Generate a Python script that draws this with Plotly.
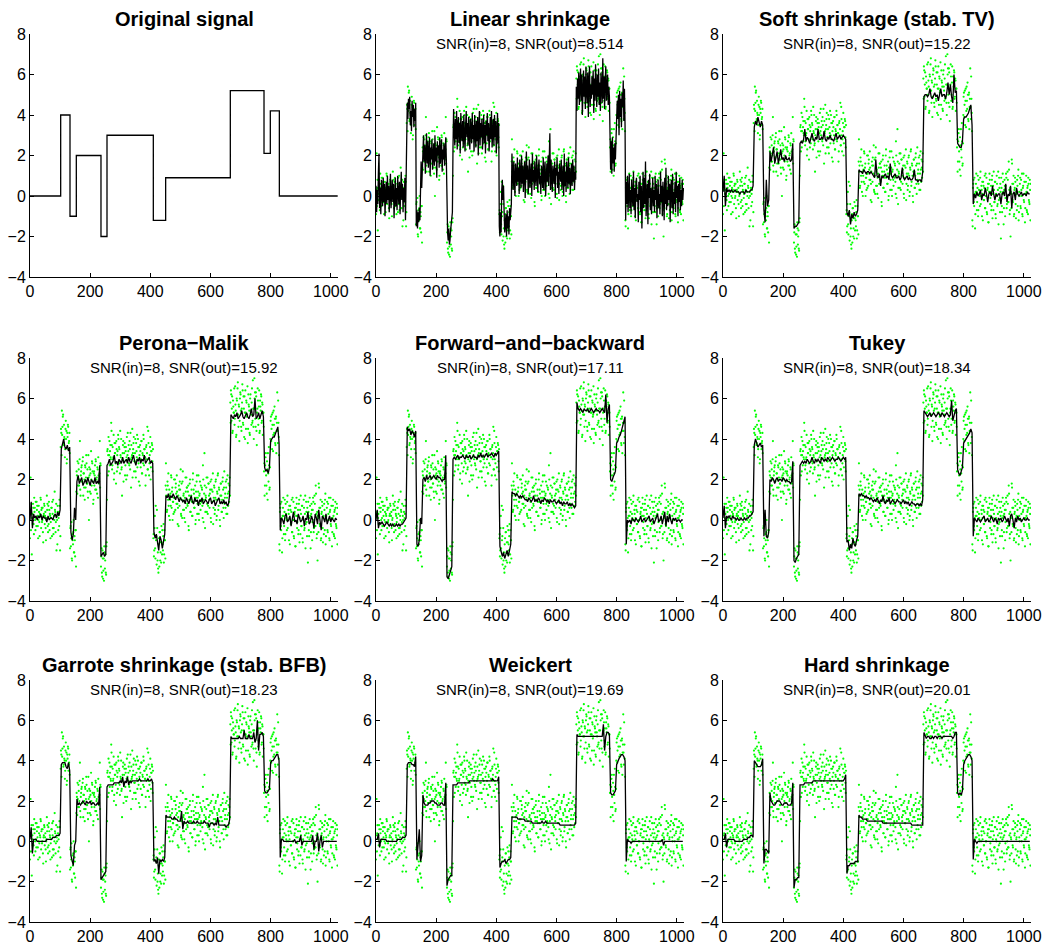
import bisect
import plotly.graph_objects as go

# ---------------- data ----------------
N_SAMPLES = 1024
BREAKS = [102, 133, 154, 236, 256, 410, 451, 666, 778, 799, 829]
LEVELS = [0, 4, -1, 2, -2, 3, -1.2, 0.9, 5.2, 2.1, 4.2, 0]
X_TICKS = [0, 200, 400, 600, 800, 1000]
Y_TICKS = [-4, -2, 0, 2, 4, 6, 8]

TITLES = ["Original signal", "Linear shrinkage", "Soft shrinkage (stab. TV)",
          "Perona\u2212Malik", "Forward\u2212and\u2212backward", "Tukey",
          "Garrote shrinkage (stab. BFB)", "Weickert", "Hard shrinkage"]
SNR_IN = "8"
SNR_OUT = [None, "8.514", "15.22", "15.92", "17.11", "18.34", "18.23", "19.69", "20.01"]

# noisy observation, deviation from the clean signal (tenths)
# even samples 0, 2, 4, ...
NOISE_EVEN = [
    -9, 21, 4, -17, 3, 8, -2, 11, 6, -5, 1, 9, 7, -3, 0, 4, -8, 2, 10, 5,
    -1, 6, -11, 3, 7, 2, -4, 0, 12, 8, -6, -2, 5, 3, -9, 1, 6, 9, -4, -7,
    2, 14, 4, -1, -15, 0, 7, -5, 3, 10, -15,
    -4, 3, 14, 6, 12, -2, 1, -9, 5, 0, -12, 3, 7, -5, -1, -7,
    6, -3, 9, -10, 0, 4, -6, 2, -8, 5,
    -6, 2, 9, -3, 5, 0, 19, -8, 4, 7, -1, 11, 3, -4, -10, 6, 1, 8, -2, -6,
    12, -20, 2, 5, -7, 0, 9, 4, -12, 3, -3, 7, 10, -5, 1, 6, -9, 2, -1, 19, 8,
    -3, 6, -8, 1, -5, -10, 4, 0, -6, 7,
    -20, 5, 2, -6, 9, 4, 1, 18, 7, -3, 0, 12, -7, 3, 8, -12, 5, 2, -4, 10,
    6, -2, 14, 1, -5, -18, 3, 9, -1, 6, -8, 4, -10, 11, 2, 0, 7, -3, 5, 13,
    -14, 1, 15, 3, 8, -6, -1, 10, -9, 4, 12, 0, 6, -11, 2, 7, -4, 9, -7, 3,
    -2, 10, 5, 1, -13, 6, 0, 16, -5, 8, -8, 2, 11, -4, 4, 7, -6,
    3, -6, 8, -2, 19, 4, 17, -8, -12, 0, -11, 6, -4, -9, 1, 7, -3, 10, -5, 2, -7,
    19, 6, -4, 8, 14, -7, 3, 1, -2, 12, 5, -9, 0, 2, -5, 11, 7, 4, 13, -1,
    -3, -12, 6, 10, 2, -6, 9, -8, 15, 3, -4, 0, -10, 5, 12, 7, -2, 8, -14, 1,
    11, -5, 3, 0, -7, 14, 6, -3, 2, -11, 5, 10, -6, 2, 13, -9, 4, -1, 8, 0,
    6, -8, 11, 1, 24, -13, 3, 7, -5, 12, -2, 9, 1, 4, 10, -10, 6, 0, 14, -3,
    8, -6, 2, 11, -9, 5, 13, -4, 7, 1, -12, 9, 3, -5, 10, 6, -8, 15, 2, -3,
    7, 11, -6, 4, 9, 0, 12,
    6, 12, -3, 9, -8, 4, 1, -5, 14, 2, -10, 7, 13, 0, 5, -13, 8, 10, -6, 3,
    15, -4, 9, -11, 1, 12, -7, 6, 0, -14, 10, 4, -9, 8, 2, -5, 13, -3, 3, -12,
    18, 11, -6, 9, -15, 3, 7, -2, 12, -8, 4, 10, -4, 6, -10, 1,
    3, -9, 6, 12, -4, 8, -11, 2, 15, -6, 5,
    7, -3, 10, 5, -8, 12, 1, 8, -5, 9, 2, 21, -4, 6, -10,
    -15, 6, -3, 9, -16, 2, 11, -7, 4, -10, 8, 1, -5, 12, 0, 3, 7, -12, 5, -2,
    10, -6, 0, 9, -9, 4, -13, 6, 11, -4, 2, -7, 8, -11, 5, 12, -3, 7, -9, 1,
    10, -5, 3, -14, 9, -1, 6, -21, 4, -8, 11, 2, -6, 8, -10, 5, 9, -4, 12, -3,
    17, 3, -7, -20, 1, 18, 6, -3, 10, -9, 4, 7, -11, 2, 8, -5, 13, -8, 0, 9,
    -6, 3, 11, -10, 5, -2, 7, -13, 1, 10, -7, 4, -9, 6, -3, 8, -12,
]
# odd samples 1, 3, 5, ...
NOISE_ODD = [
    3, -5, 8, 1, -2, 6, -7, 4, 0, 9, -3, 5, 2, -9, 7, -1, 3, 11, -4, 6,
    0, -6, 2, 8, -2, 4, -10, 1, 5, -3, 7, 9, -5, 2, -1, 6, -8, 3, 10, -4,
    0, 5, -6, 8, 2, -12, 4, 1, -3, 7, -8,
    5, -8, 2, 11, -3, 7, 0, -5, 9, 4, -10, 1, 6, -2, 3,
    -4, 7, 1, -9, 3, -2, 10, -6, 0, 5, -13,
    4, -7, 1, 8, -3, 10, -5, 2, 6, -1, 9, -8, 3, 0, 7, -4, 12, -2, 5, -9,
    1, 6, -6, 3, 14, -3, 8, -1, -10, 4, 2, -5, 9, 0, -7, 5, 11, -2, 3, -4, 7,
    2, -6, 5, -9, 1, 7, -4, 3, -7, 9,
    4, -8, 11, 2, -3, 7, 0, 14, -5, 6, 1, -10, 8, 3, -2, 9, -6, 4, 12, -1,
    5, -7, 2, 10, -4, 0, 7, -11, 3, 8, -3, 6, 1, -8, 13, 4, -2, 9, -5, 0,
    7, 2, -9, 5, 11, -1, 3, -6, 8, 1, -4, 10, -2, 6, -13, 4, 0, 9, -7, 2,
    12, -3, 5, 1, -8, 7, 3, -5, 14, 0, -2, 6, -10, 4, 8, -1, 5,
    5, -3, 14, -7, 2, -10, 8, -4, -14, 3, 6, -8, 1, 9, -5, 0, 4, -9, 7, 2,
    8, 3, -5, 10, 1, -2, 6, -9, 4, 13, -3, 7, 0, -6, 11, 2, -4, 9, -1, 5,
    -11, 3, 8, -2, 6, 16, -7, 1, 10, -4, 4, -8, 2, 12, -3, 7, -1, 5, -12, 3,
    9, -5, 1, 6, -7, 11, 0, 4, -3, 8, -9, 2, 13, -1, 5, -6, 3, 10, -4, 1,
    7, -2, 18, -10, 4, 8, -5, 2, 12, -1, -6, 9, 3, -3, 6, -8, 11, 0, 5, -11,
    2, 7, -4, 10, 1, -7, 4, 14, -2, 6, -9, 3, 9, -5, 1, 12, -3, 7, -1, 4,
    10, -6, 2, 13, -2, 5, 8, 3,
    -4, 10, 3, -9, 7, 1, 13, -2, 5, -11, 8, 0, 16, -6, 4, -3, 11, 2, -8, 6,
    12, -5, 3, 9, -12, 1, 7, -1, 14, -7, 5, 2, -10, 10, 0, 6, -4, 17, -6, 3,
    8, -2, 11, -8, 1, 13, -5, 4, -9, 7, 2, 9, -3, 5, 1, -6,
    7, -4, 10, 1, -8, 4, 12, -2, 6, -5,
    -2, 9, 3, -7, 11, 0, 5, 14, -4, 8, -9, 6, 2, 17, -1,
    -12, 4, 8, -5, 1, -9, 6, 2, -3, 10, -7, 3, 0, 9, -4, 5, -10, 1, 7, -2,
    4, -6, 11, 0, -8, 3, 6, -13, 2, 8, -1, 5, -5, 10, 1, -7, 3, -3, 7, -11,
    0, 6, -4, 12, -2, 4, -8, 2, 9, -5, 1, 7, -14, 3, 5, -1, 11, -6, 0, 8,
    -3, 13, -9, 4, 2, -6, 16, -2, 6, -10, 3, 9, -4, 1, -7, 5, 10, -12, 2, 6,
    -5, 8, 0, -9, 4, 11, -3, 1, -6, 7, 2, -8, 5, 9, -2, -4, 3, 6,
]

# denoised results, deviation from the clean signal (tenths)
LINEAR_STEP = 2
RES_LINEAR = [
    5, -8, 3, -4, 12, 21, -6, 4, -9, 8, 2, -5, 9, -3, 6, -10, 1, 7, -4, 10,
    -2, 5, -8, 3, 11, -6, 0, 8, -3, 6, -11, 2, 9, -5, 4, -7, 10, 1, -4, 7,
    -9, 3, 12, -2, 6, -8, 4, -3, 9, -12, 5,
    -4, 6, -2, 8, 3, 9, -5, 2, -8, 7, -1, 5, -6, 3, -3, 6,
    -5, 3, -6, 2, -3, 4, -2, 8, 27, 14,
    -8, 6, 10, -3, 5, -9, 2, 11, -4, 7, -6, 3, 9, -10, 4, -2, 8, -7, 1, 6,
    -5, 10, -3, 4, -11, 7, 0, 5, -6, 9, -4, 2, 8, -8, 3, -2, 6, -5, 1, 9, -3,
    8, 2, -2, 4, -4, -2, 3, 6, 9, 12,
    -6, 13, 2, -5, 8, -2, 12, -7, 4, 9, -4, 6, -9, 11, 1, -3, 7, -6, 10, 2,
    -8, 5, 12, -1, 6, -5, 9, 0, -7, 8, 3, -4, 11, -2, 5, -8, 10, 1, -6, 7,
    -3, 9, -10, 4, 12, -5, 6, -1, 8, -7, 2, 10, -4, 5, -9, 7, 0, 11, -3, 6,
    -8, 4, 9, -2, 12, -6, 3, 8, -5, 10, -1, 7, -9, 5, 11, -4, 6,
    -3, -8, 4, -6, 15, 20, 10, 17, 4, -6, -2, 3, -8, 5, -4, 2, -7, 6, 0, 4, 8,
    12, 4, -6, 8, 1, -9, 7, 3, -4, 10, -2, 5, -8, 9, 0, -5, 11, -3, 6, -7,
    2, 8, -10, 4, 13, -1, 6, -8, 3, 9, -5, 1, 7, -9, 12, -2, 4, -6, 8, 0,
    -4, 11, 3, -7, 5, 9, -3, 1, -8, 6, 2, -5, 10, -6, 4, 8, -9, 3, 7, -2,
    11, -4, 5, 22, -6, 9, 0, -7, 6, 2, -3, 8, -10, 5, 1, 10, -5, 3, -8, 7,
    4, -2, 9, -6, 0, 6, -9, 12, -4, 3, -7, 8, 2, -5, 10, -3, 5, -8, 1, 7,
    -4, 9, -2, 6, -6, 3, -1,
    2, -10, 6, -4, 9, -7, 3, 11, -5, 8, -12, 4, 10, -3, 7, -9, 12, 0, -6, 9,
    -13, 5, 12, -8, 3, -4, 7, -2, 10, -11, 6, -5, 13, 1, -8, 8, -3, 11, -7, 4,
    -10, 9, 2, -6, 16, -4, 7, -9, 5, 12, -5, 3, 8, -7, 2, -3,
    -2, -8, 6, -10, 8, -5, 3, -9, 5, -3, 7,
    -6, 5, -4, 8, -12, 10, -3, 6, -8, 9, 2, 15, -5, 11, -7,
    -12, 7, -4, 10, -8, 2, 11, -6, 3, -9, 8, 0, -5, 12, -7, 4, -11, 6, 9, -3,
    1, -13, 7, -2, 10, -8, 5, -16, 3, 12, -6, 9, -4, 17, -10, 2, 6, -14, 8, -1,
    11, -7, 4, -9, 5, 9, -5, 3, -8, 10, -2, 6, -11, 4, 8, -6, 1, -9, 12, -3,
    5, -10, 7, 0, -12, 9, -4, 14, -7, 3, -5, 10, -2, 6, -13, 4, 8, -6, 11, -9,
    2, -4, 7, -8, 12, -1, 5, -10, 6, -3, 9, -7, 3, -5, 8, -2, 4,
]
LINE_STEP = 4
RES_SOFT = [
    2, 10, -5, 4, 2, 3, 2, 3, 2, 2, 3, 2, 2, 2, 1, 2, 2, 2, 1, 3, 2, 2, 2, 3, 3, 5,
    -6, -3, -5, -1, -4, -6, -3, -5,
    3, -3, 18, 5, 8,
    2, -3, 1, 4, -4, 0, 2, -4, -1, 3, -2, -1, -3, 0, -2, -2, -1, -3, -2, 6,
    4, 5, 5, 6, 7,
    -4, -3, -4, -2, 3, -3, -1, -2, -4, -2, 1, -2, -3, -1, -2, 3, -2, -2, -1, -2,
    2, -2, -3, -1, -2, 0, -2, -2, -3, -1, 1, -2, -1, 0, -2, -1, 0, -1, -2,
    4, 2, 5, -2, 3, 1, 4, 2, 3, 5,
    4, 3, 3, 2, 4, 3, 2, 3, 3, 2, 3, 2,
    1, 0, 9, 1, 0, 2, -4, 1, 0, 1, 2, 0, 1, -1, 7, 1, 0, 1, 2, 0,
    0, 1, -1, 0, 5, 0, -1, 0, 1, -1, 0, -1, -1, 0, 4, -1, -1, -2, -1, -1, -2, 3,
    -3, -2, -2, -3, -2, 1, -3, -4, -2, -1, -3, -2, -5, -2, 1, -3, -2, -2, -4, -1,
    4, -2, 3, -3, -6, 8, -1, 0,
    5, 4, 3, 3, 6,
    -4, -3, -3, -2, -1, 1, 3, -7,
    -4, 1, -1, 2, 0, 1, 3, -2, 1, 0, 4, 1, -3, 1, 2, 0, 5, 1, -2, 1,
    0, 1, 1, -4, 1, 2, 0, 6, -3, 1, 0, 5, -6, 1, 2, -2, 4, 1, 0, 1,
    2, 0, 1, 1, 0, 2, 1, 1,
]
RES_PERONA = [
    0, 9, -4, 3, 1, 2, 0, 2, 1, 3, 0, 2, 1, 1, -1, 2, 0, 1, 1, 0, 2, 3, 1, 4, 2, 5,
    -5, -2, 0, -4, -5, -3, -6, -4,
    4, 0, 3, 16, 10,
    -1, 2, -2, 0, 1, -3, -1, 0, -2, 1, -1, -3, 0, -1, -2, 1, -2, -1, -2, 7,
    2, 3, 4, 2, 3,
    -3, -2, 0, -3, -2, -1, 2, -2, -1, -3, 0, -1, -2, 1, -2, -1, 0, -2, 1, -1,
    -2, 0, 2, -1, -3, 0, -1, 1, -2, 0, -1, 2, -2, -1, 0, 1, -2, -1, -2,
    6, 3, 5, 1, -3, 4, 2, -2, 3, 5,
    3, 2, 4, 1, 3, 2, 4, 2, 1, 3, 2, 0, 2, 1,
    0, 1, -1, 2, 0, -1, 1, 3, 0, -1, 2, 0, 1, -2, 1, 0, 2, -1, 0, 1,
    0, -1, 1, 2, -1, 0, 1, -2, 0, 1, 2, -1, 0, -1, 1, -1, 0, -2, -1, 4,
    0, -1, -2, 0, -1, 1, -2, -1, 0, 2, -1, -2, 0, 1, -1, -2, 0, 3, -1, 0,
    8, -2, -1, 1, -2, 0, 2, -1,
    5, 3, 4, 2, 5,
    -3, -2, -1, -1, 1, 2, 4, -4,
    -5, 1, 0, -2, 2, 3, -1, 0, 2, -3, 1, 4, -1, 0, -2, 3, 1, -1, 0, 2,
    -3, 1, 0, 4, -2, -1, 2, 0, -4, 3, 1, -2, 5, 0, -5, 2, 1, -1, 3, -2,
    0, 2, -1, 1, 0, -1, 1, 0,
]
RES_FB = [
    0, 5, -4, -1, -2, -1, -2, -3, -2, -1, -2, -3, -2, -3, -2, -3, -3, -2, -3, -2, -3, -2, -2, -1, 0, 1,
    6, 4, 5, 2, 4, 3, 1, 4,
    -2, -3, 0, 11, 8,
    0, 1, -1, 2, 0, 1, 2, 0, 1, 2, 1, 0, 2, 1, 1, 0, -1, 0, 0, 12,
    -8, -9, -7, -5, -3,
    0, 1, 0, 1, 2, 0, 1, 1, 2, 1, 0, 2, 1, 1, 2, 0, 1, 2, 1, 1,
    0, 2, 1, 3, 1, 2, 1, 2, 3, 1, 2, 2, 3, 2, 1, 3, 2, 3, 4,
    -1, -3, -6, -4, -7, -5, -3, -6, -2, 0,
    5, 4, 4, 3, 4, 3, 2, 3, 2, 3, 2, 1,
    1, 0, 2, 1, 0, 1, 3, 0, 1, 0, 2, 1, -1, 1, 0, 2, 1, 0, 1, -1, 1, 0,
    0, 1, 0, -1, 0, 1, -1, 0, -2, 0, -1, -1, 0, -2, -1, -2, -1, -2, -3, -2,
    6, 3, 2, 3, 2, 1, 3, 2, 2, 3, 1, 2, 3, 2, 1, 2, 3, 2, 2, 1,
    2, 3, 2, 1, 10, -4, 3, 5,
    -1, -2, 0, 2, 3,
    -4, -3, -1, 0, 2, 4, 7, 9,
    -12, 0, -1, 0, -2, 1, 0, -1, 1, 0, -1, 0, 2, -1, 0, 1, -1, 0, 1, 2,
    -1, 0, 1, -2, 0, 1, 3, -1, 0, 2, -2, 1, 4, -3, 2, -1, 3, 0, -2, 1,
    0, 1, -1, 0, 0, -1, 0, 0,
]
RES_TUKEY = [
    1, 7, -4, 2, 1, 2, 1, 0, 2, 1, 1, 0, 1, 0, 0, 1, 0, 0, 1, 0, 1, 1, 2, 2, 3, 4,
    -3, 0, -2, -4, -3, -2, -4, -3,
    2, 15, 2, 1, 4,
    0, -1, 1, 0, -2, 0, 1, -1, 0, 0, -1, 1, 0, -1, 0, -1, -1, -2, -1, 9,
    0, -1, 1, 2, 3,
    -3, -2, -1, -2, -1, -2, 0, -1, -2, -1, 1, -1, -2, 0, -1, 0, -1, -2, 1, 0,
    -1, 0, -1, 1, 0, -1, 0, 1, 0, -1, 0, 0, 1, 0, -1, 0, 1, 0, 1,
    1, 2, -3, 0, -2, 3, 0, -1, 2, 4,
    4, 3, 4, 3, 3, 2, 3, 2, 2, 1, 2, 1,
    0, 1, 0, 2, 0, -1, 1, 0, 3, 0, -1, 1, 0, 2, -1, 0, 1, 0, -1, 0, 1, 0,
    0, -1, 0, 1, -1, 0, -1, 0, -2, -1, 0, -1, -1, -2, -1, -1, -2, -1, -2, 1,
    2, 1, 0, -1, 0, 1, -1, 0, 1, 0, -1, 0, 1, 0, -1, 1, 0, -1, 0, 1,
    0, -1, 0, 7, -3, 0, 2, 3,
    4, 2, 1, 3, 5,
    -4, -3, -2, -1, 0, 1, 3, 1,
    -8, 1, 0, -1, 1, 0, -1, 0, 1, 2, -1, 0, 1, -1, 0, 2, 0, -1, 1, 0,
    -2, 1, 0, 1, -1, 0, 2, 0, -1, 1, -3, 2, 3, 0, -4, 1, -1, 2, 0, 1,
    -1, 0, 1, 0, 0, 1, 0, 0,
]
RES_GARROTE = [
    1, 7, -6, 1, 1, 1, 0, 0, 0, 0, 0, 0, 0, 0, 1, 1, 1, 1, 1, 2, 2, 2, 3, 3, 3, 4,
    -2, -1, -1, -1, -3, -4, -1, -5,
    3, 0, -2, 8, 10,
    1, -2, -1, -2, -1, 0, -1, -2, 0, -1, -1, 0, -2, -1, -1, -2, -2, -1, -2, 7,
    1, 2, 3, 4, 5,
    -3, -2, -2, -2, -2, -2, -1, -1, -1, -1, -1, 0, -1, 2, -3, 0, -1, 2, -2, 0,
    -1, 0, 0, 0, 0, 0, 0, 1, 0, 0, 0, 0, 0, 0, 1, 0, 0, 1, -1,
    2, 3, 1, 4, -4, 3, 2, 3, 2, 4,
    4, 3, 3, 3, 3, 2, 2, 3, 2, 2, 1, 1,
    1, 6, -3, 1, 0, 0, 1, 0, 0, 0, 0, 1, 0, 0, 1, 0, 0, 0, 0, 0, 1, 0,
    0, 0, -2, 0, 0, 0, -1, 0, -1, 3, -1, -1, -1, -1, -1, -1, -2, -1, -1, 2,
    0, -1, -1, -1, -1, -1, -1, 0, -1, -1, -1, 3, -1, -1, -1, 1, -1, -1, -1, 2,
    -3, -1, 8, -7, 1, 1, 2, 0,
    4, 3, 3, 4, 5,
    -3, -2, -2, -1, 0, 1, 1, -2,
    -8, 1, 1, 0, 0, 0, 0, 0, 0, 0, 0, 0, 1, -1, 0, 0, 0, 3, -2, 0,
    0, 0, 0, 0, 0, 0, 0, 3, -4, 0, 0, 4, -5, 0, 3, -3, 0, 0, 0, 0,
    0, 0, 0, 0, 0, 0, 0, 0,
]
RES_WEICKERT = [
    1, 1, 4, -3, 1, 1, 1, 1, 1, 0, 0, 0, 0, 0, 0, 0, 0, 0, 1, 1, 1, 1, 2, 2, 2, 3,
    -2, -1, -1, -1, -2, -2, -3, 2,
    1, 7, 16, 0, 3,
    3, -1, -2, -2, -2, -1, -1, 0, 0, 0, -1, -1, -2, -2, -2, -1, -1, -2, -2, 9,
    -2, 1, 2, 3, 3,
    -2, -2, -2, -2, -1, -1, -1, -1, -1, -1, -1, -1, -1, -1, 0, 0, 0, 0, 0, 0,
    0, 0, 0, 0, 0, 0, 0, 0, 0, 0, 0, 0, 0, 1, 0, 0, 0, 0, 2,
    -1, 1, 2, 2, 3, 1, 2, 3, 3, 4,
    3, 3, 3, 3, 3, 2, 2, 2, 2, 2, 2, 1,
    1, 1, 1, 1, 1, 0, 0, 0, 0, 0, 0, 0, 0, 1, 0, 0, 1, 0, 0, 0, 0, 0,
    0, 0, 0, 0, 0, 0, -1, -1, -1, -1, -1, -1, -1, -1, -1, -1, -1, -1, -1, 0,
    1, 0, 0, 0, 0, 0, 0, 0, 0, 0, 0, 0, 0, 0, 0, 0, 0, 0, 0, 0,
    0, 0, 6, -7, 0, 2, 2, 1,
    3, 2, 2, 3, 4,
    -4, -2, -1, 0, 1, 1, 0, -2,
    -10, 1, 0, 0, -1, 0, 0, 0, 0, 0, 0, 0, 0, 0, 0, 0, 0, 0, 0, 0,
    0, 0, 0, 0, 0, 0, 0, 0, 0, 0, 1, -2, 0, 0, 0, 0, 0, 0, 0, 0,
    0, 0, 0, 0, 0, 0, 0, 0,
]
RES_HARD = [
    1, 1, 4, -3, 1, 1, 1, 1, 1, 1, 0, 0, 0, 0, 0, 0, 0, 1, 1, 1, 1, 2, 2, 3, 3, 2,
    0, -1, -2, -3, -3, -3, -2, 1,
    -1, 6, 6, 5, 4,
    4, 0, -1, -2, -2, -1, 0, 0, 0, -1, -2, -2, -1, -1, -1, -2, -2, -2, -1, 9,
    -3, 1, 1, 2, 2,
    -2, -2, -2, -2, -1, -1, -1, -1, -1, -1, -1, 0, 0, 0, 0, 0, 0, 0, 0, 0,
    0, 0, 0, 0, 0, 0, 0, 0, 0, 0, 0, 0, 0, 0, 0, 0, 0, 1, 3,
    -4, 0, 0, 1, 1, 1, 1, 2, 2, 2,
    4, 3, 3, 2, 2, 2, 2, 1, 1, 1, 1, 1,
    1, 1, 1, 1, 1, 1, 1, 1, 0, 0, 0, 0, 0, 0, 0, 0, 0, 0, 0, 0, 0, 0,
    0, 0, 0, 0, 0, 0, 0, 0, 0, 0, -1, -1, -1, -1, -1, -1, -1, -1, -1, -1,
    2, 0, -1, 0, 0, -1, -1, 0, -1, 0, 0, -1, 0, 0, 0, -1, 0, 0, 0, 0,
    0, 0, 0, 0, -1, 0, 2, 2,
    3, 2, 3, 2, 4,
    -4, -2, -1, 0, 1, 1, 0, -2,
    -9, 1, 0, -1, 0, 0, 0, 0, 0, 0, 0, 0, 0, 0, 0, 0, 0, 0, 0, 0,
    0, 0, 0, 0, 0, 0, 0, 0, 0, 0, 0, 0, 0, 0, 0, 0, 0, 0, 0, 0,
    0, 0, 0, 0, 0, 0, 0, 0,
]
RESULTS = [None, RES_LINEAR, RES_SOFT, RES_PERONA, RES_FB, RES_TUKEY,
           RES_GARROTE, RES_WEICKERT, RES_HARD]
STEPS = [None, LINEAR_STEP] + [LINE_STEP] * 7

# ---------------- layout constants (pixels) ----------------
W, H = 1046, 944
COL_PX = [(30, 338), (376, 684), (723, 1031)]
ROW_PX = [(34, 277), (358, 601), (680, 922)]
FONT = "Liberation Sans, Arial, Helvetica, sans-serif"


def clean(x):
    return LEVELS[bisect.bisect_right(BREAKS, x)]


even_x = list(range(0, N_SAMPLES, 2))
odd_x = list(range(1, N_SAMPLES, 2))
assert len(NOISE_EVEN) == len(even_x), len(NOISE_EVEN)
assert len(NOISE_ODD) == len(odd_x), len(NOISE_ODD)
noise_x = even_x + odd_x
noise_y = ([clean(x) + v / 10 for x, v in zip(even_x, NOISE_EVEN)]
           + [clean(x) + v / 10 for x, v in zip(odd_x, NOISE_ODD)])

fig = go.Figure()
layout = dict(width=W, height=H, margin=dict(l=0, r=0, t=0, b=0, autoexpand=False),
              paper_bgcolor="white", plot_bgcolor="white", showlegend=False,
              font=dict(family=FONT, size=16, color="black"))
annotations = []

for k in range(9):
    r, c = divmod(k, 3)
    n = k + 1
    xa = "x" if n == 1 else f"x{n}"
    ya = "y" if n == 1 else f"y{n}"
    (x0, x1), (y0, y1) = COL_PX[c], ROW_PX[r]
    common = dict(showline=True, linecolor="black", linewidth=1, ticks="inside",
                  ticklen=4, tickcolor="black", showgrid=False, zeroline=False,
                  automargin=False, mirror=False,
                  tickfont=dict(family=FONT, size=16, color="black"))
    layout["xaxis" if n == 1 else f"xaxis{n}"] = dict(
        domain=[x0 / W, x1 / W], anchor=ya, range=[0, N_SAMPLES],
        tickvals=X_TICKS, **common)
    layout["yaxis" if n == 1 else f"yaxis{n}"] = dict(
        domain=[1 - y1 / H, 1 - y0 / H], anchor=xa, range=[-4, 8],
        tickvals=Y_TICKS, **common)

    if k == 0:
        fig.add_trace(go.Scatter(
            x=[0] + BREAKS + [N_SAMPLES - 1], y=LEVELS + [LEVELS[-1]],
            mode="lines", line=dict(color="black", width=1.3, shape="hv"),
            xaxis=xa, yaxis=ya, hoverinfo="skip"))
    else:
        res = RESULTS[k]
        lx = list(range(0, N_SAMPLES, STEPS[k]))
        assert len(res) == len(lx), (k, len(res))
        fig.add_trace(go.Scatter(
            x=noise_x, y=noise_y, mode="markers",
            marker=dict(color="#00ff00", size=2.2, line=dict(width=0)),
            xaxis=xa, yaxis=ya, hoverinfo="skip"))
        fig.add_trace(go.Scatter(
            x=lx, y=[clean(x) + v / 10 for x, v in zip(lx, res)],
            mode="lines", line=dict(color="black", width=1.3),
            xaxis=xa, yaxis=ya, hoverinfo="skip"))
        annotations.append(dict(
            text=f"SNR(in)={SNR_IN}, SNR(out)={SNR_OUT[k]}",
            x=(x0 + x1) / 2 / W, y=1 - (y0 + 9) / H, xref="paper", yref="paper",
            xanchor="center", yanchor="middle", showarrow=False,
            font=dict(family=FONT, size=15, color="black")))
    annotations.append(dict(
        text=f"<b>{TITLES[k]}</b>",
        x=(x0 + x1) / 2 / W, y=1 - (y0 - 15) / H, xref="paper", yref="paper",
        xanchor="center", yanchor="middle", showarrow=False,
        font=dict(family=FONT, size=20, color="black")))

layout["annotations"] = annotations
fig.update_layout(**layout)
fig.write_html(
    "out.html",
    config={"displayModeBar": False},
    post_script="document.body.style.margin='0px';"
                "document.body.style.overflow='hidden';")
